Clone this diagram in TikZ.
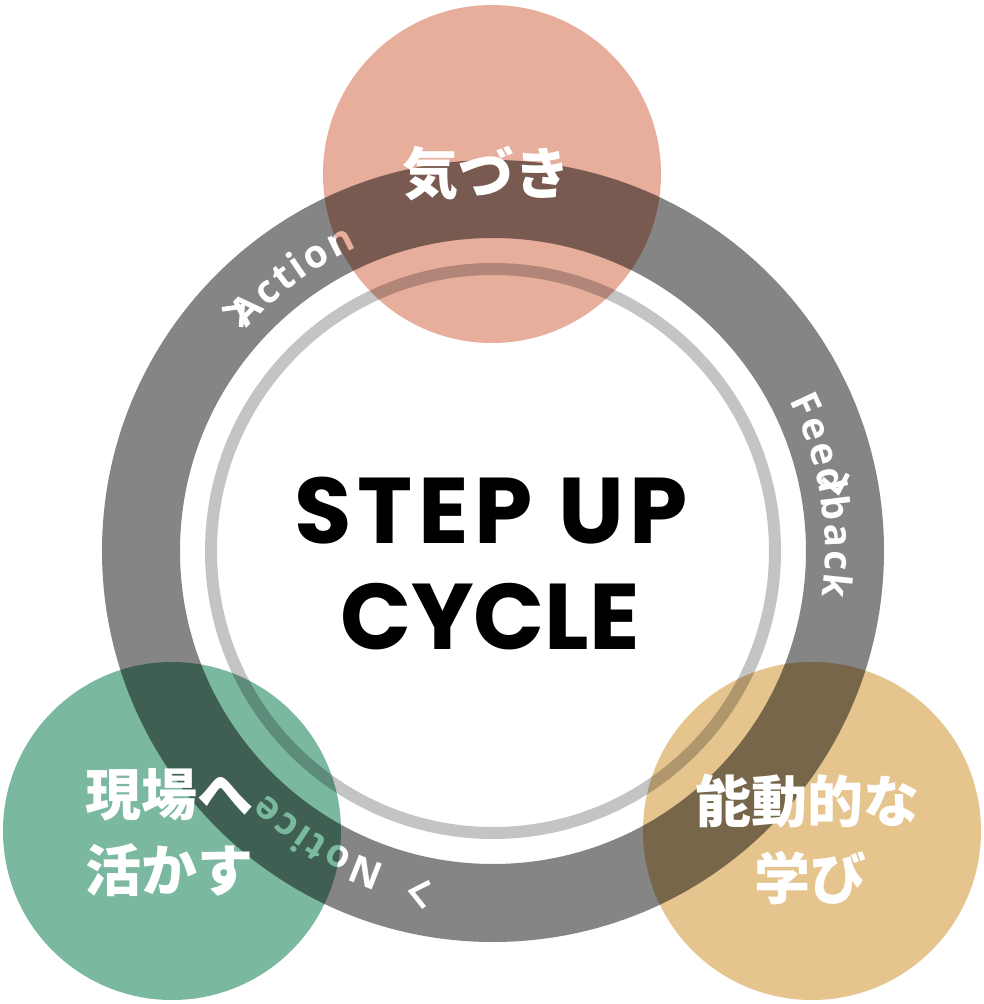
\documentclass[tikz,border=0pt]{standalone}
\usepackage{fontspec}
\newfontfamily\popfont{Poppins}[LetterSpace=6]
\newfontfamily\popfontn{Poppins}[LetterSpace=0]
\newfontfamily\ringfont{Open Sans}
\newfontfamily\jpfont{Noto Sans CJK JP}
\usetikzlibrary{decorations.text}
\definecolor{ringgray}{HTML}{858585}
\definecolor{lightring}{HTML}{C4C4C4}
\definecolor{pinkc}{HTML}{E7AE9C}
\definecolor{greenc}{HTML}{7AB8A0}
\definecolor{yellowc}{HTML}{E5C48E}
\tikzset{
  chev/.style={white, line width=3.5pt, line join=miter},
  jptext/.style={white, font=\jpfont\bfseries\fontsize{42}{56}\selectfont, inner sep=0pt},
  bigtext/.style={black, font=\popfont\bfseries\fontsize{70}{80}\selectfont, inner sep=0pt},
  bigtextn/.style={black, font=\popfontn\bfseries\fontsize{70}{80}\selectfont, inner sep=0pt},
  ringlabel/.style={decorate, decoration={text along path, text align=center, text color=white}}
}
\newcommand{\ringtextfont}{\ringfont\bfseries\fontsize{29}{32}\selectfont}
\begin{document}
\begin{tikzpicture}[x=0.75pt, y=0.75pt]
\useasboundingbox (-493,-453) rectangle (491,551);
\fill[white] (-493,-453) rectangle (491,551);
% main ring
\fill[ringgray, even odd rule] (0,0) circle[radius=391] (0,0) circle[radius=313];
% thin inner ring
\fill[lightring, even odd rule] (0,0) circle[radius=288] (0,0) circle[radius=276];
% ring labels
\path[ringlabel, decoration={text={|\ringtextfont|A{\kern2pt}c{\kern2pt}t{\kern2pt}i{\kern2pt}o{\kern2pt}n}}] (166:332) arc[start angle=166, end angle=86, radius=332];
\path[ringlabel, decoration={text={|\ringtextfont|F{\kern2pt}e{\kern2pt}e{\kern2pt}d{\kern2pt}b{\kern2pt}a{\kern2pt}c{\kern2pt}k}}] (50:332) arc[start angle=50, end angle=-31, radius=332];
\path[ringlabel, decoration={text={|\ringtextfont|N{\kern2pt}o{\kern2pt}t{\kern2pt}i{\kern2pt}c{\kern2pt}e}}] (279:332) arc[start angle=279, end angle=199, radius=332];
% chevrons
\foreach \a in {137,257.8,11}{
  \begin{scope}[shift={(\a:350)}, rotate=\a-90]
    \draw[chev] (-8,13) -- (8,0) -- (-8,-13);
  \end{scope}
}
% circles (multiply)
\begin{scope}[blend mode=multiply]
  \fill[pinkc] (-1,377) circle[radius=169];
  \fill[greenc] (-321,-280) circle[radius=169];
  \fill[yellowc] (319,-280) circle[radius=169];
\end{scope}
% texts
\node[jptext] (kizuki) at (-6,377) {気づき};
\node[jptext] (genba) at (-323,-244) {現場へ};
\node[jptext] (ikasu) at (-323,-319) {活かす};
\node[jptext] (noudou) at (315,-250) {能動的な};
\node[jptext] (manabi) at (317,-327) {学び};
\node[bigtext] (stepup) at (-1.5,40.5) {STEP UP};
\node[bigtextn] (cycle) at (-3,-65.5) {CYCLE};
\end{tikzpicture}
\end{document}
